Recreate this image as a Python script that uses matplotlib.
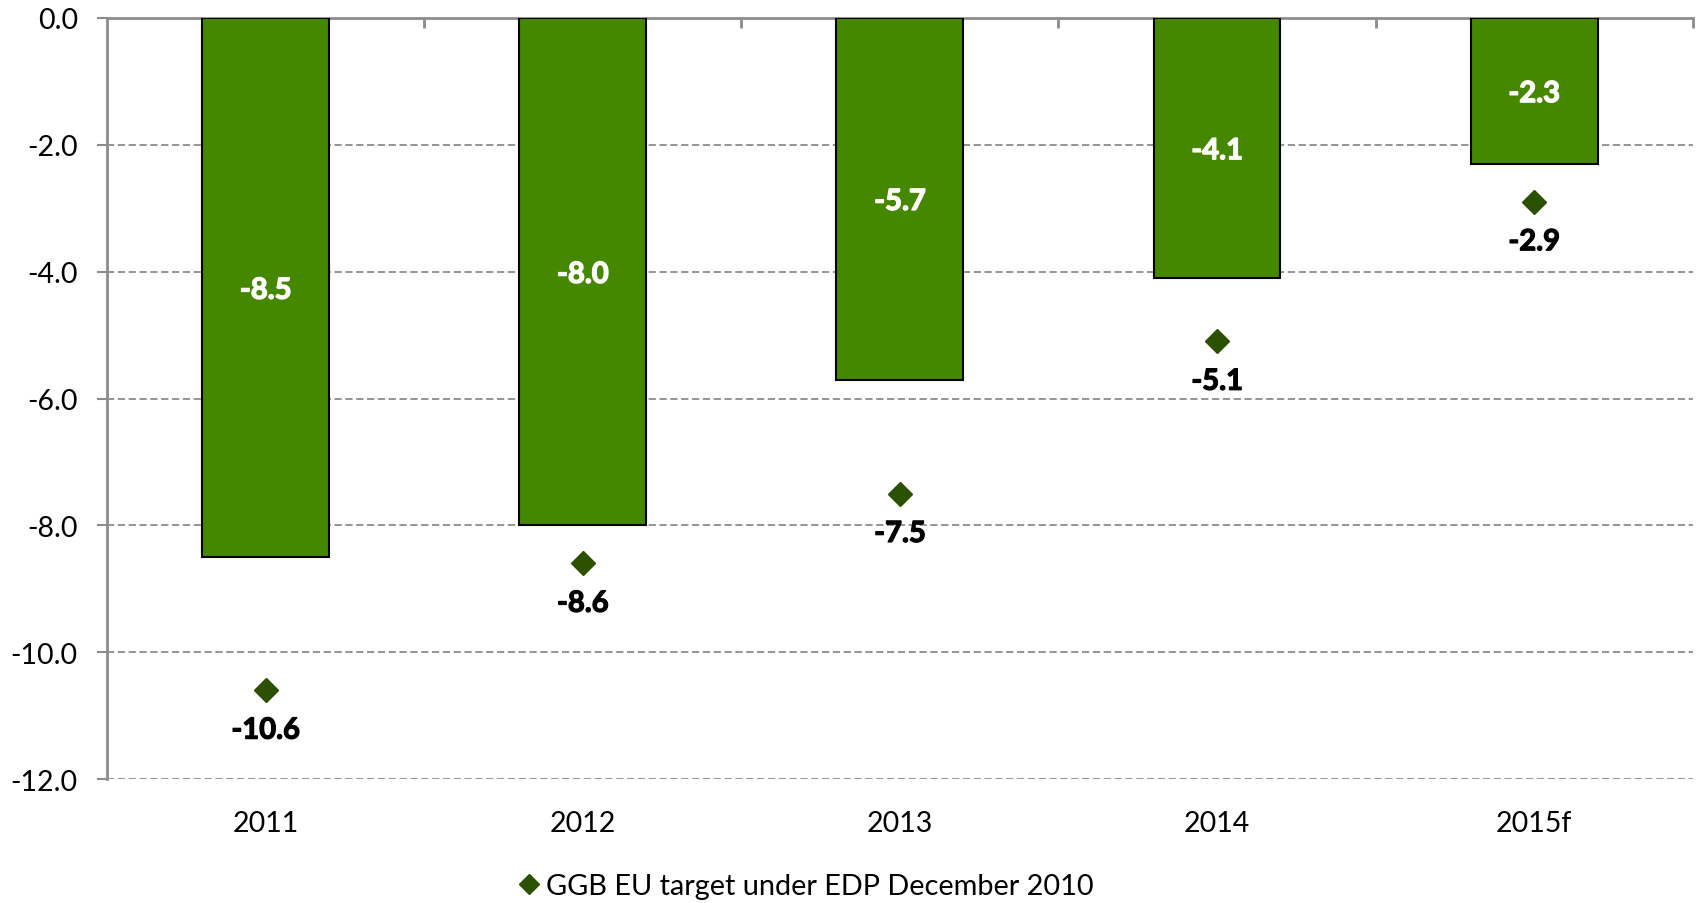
import numpy as np
import matplotlib.pyplot as plt
import matplotlib.patheffects as pe

plt.rcParams['font.family'] = ['Lato', 'DejaVu Sans']

years = ['2011', '2012', '2013', '2014', '2015f']
ggb_actual = [-8.5, -8.0, -5.7, -4.1, -2.3]
edp_target = [-10.6, -8.6, -7.5, -5.1, -2.9]

bar_color = '#468700'
marker_color = '#2a5000'
axis_gray = '#8c8c8c'

fig = plt.figure(figsize=(16.96, 9.04), dpi=100)
ax = fig.add_axes([0.0631, 0.137, 0.935, 0.842])

x = np.arange(len(years))
ax.bar(x, ggb_actual, width=0.4, color=bar_color, edgecolor='black', linewidth=1.5, zorder=3)
ax.plot(x, edp_target, linestyle='none', marker='D', markersize=12.5,
        color=marker_color, zorder=4, label='GGB EU target under EDP December 2010')

# values inside the bars (thin stroke to thicken the bold text)
for xi, v in zip(x, ggb_actual):
    ax.text(xi, v / 2 - 0.05, f'{v:.1f}', ha='center', va='center', color='white',
            fontsize=21, fontweight='bold', zorder=5,
            path_effects=[pe.withStroke(linewidth=1.0, foreground='white')])

# values under the diamonds
for xi, v in zip(x, edp_target):
    ax.annotate(f'{v:.1f}', (xi, v), xytext=(0, -29), textcoords='offset points',
                ha='center', va='center', fontsize=21, fontweight='bold', color='black',
                path_effects=[pe.withStroke(linewidth=0.9, foreground='black')])

ax.set_xlim(-0.5, len(years) - 0.5)
ax.set_ylim(-12, 0)
ax.set_yticks(np.arange(-12, 0.1, 2))
ax.set_yticklabels([f'{t:.1f}' for t in np.arange(-12, 0.1, 2)])
ax.yaxis.grid(True, linestyle=(0, (4, 2)), color=axis_gray, linewidth=1.3, zorder=0)
ax.set_axisbelow(True)

for side in ['bottom', 'right']:
    ax.spines[side].set_visible(False)
ax.spines['left'].set_color(axis_gray)
ax.spines['left'].set_linewidth(2)
ax.spines['top'].set_color(axis_gray)
ax.spines['top'].set_linewidth(2)

ax.tick_params(axis='y', length=7, width=1.5, color=axis_gray, pad=14, labelsize=20.5)
# category labels sit below the plot, while the axis line runs along zero
ax.set_xticks(x)
ax.set_xticklabels(years)
ax.tick_params(axis='x', length=0, pad=22, labelsize=20.5)
ax.set_xticks(np.arange(0.5, len(years), 1), minor=True)
ax.tick_params(axis='x', which='minor', top=True, bottom=False, direction='in',
               length=7, width=2, color=axis_gray)

fig.legend(loc='center', bbox_to_anchor=(0.474, 0.019), frameon=False, fontsize=20.8,
           handletextpad=0.1, handlelength=1.0, markerscale=0.85)

fig.savefig('out.png', dpi=100)
